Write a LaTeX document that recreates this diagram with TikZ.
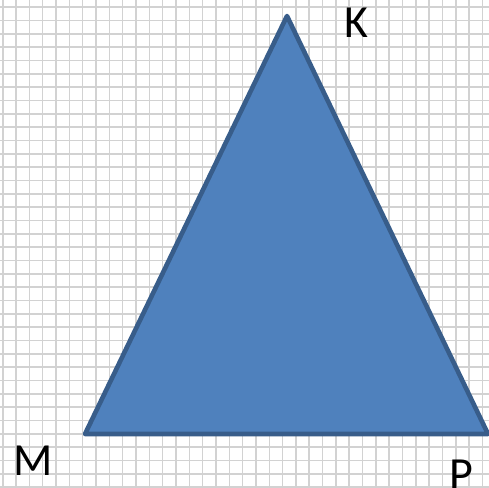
\documentclass[tikz,border=0pt]{standalone}
\usepackage{fontspec}
\setmainfont{Carlito}
\usepackage{xcolor}
\usepackage{tikz}
\usetikzlibrary{positioning,calc}

\definecolor{triFill}{HTML}{4F81BD}
\definecolor{triLine}{HTML}{385D8A}

\tikzset{
    gridLine/.style={line width=1.6pt, gray!35},
    vertexLabel/.style={font=\fontsize{46}{50}\selectfont, text=black, inner sep=0pt, anchor=base west}
}

\begin{document}
\begin{tikzpicture}[x=1pt, y=1pt]
    \useasboundingbox (0,0) rectangle (489,487);
    \clip (0,0) rectangle (489,487);
    \fill[white] (0,0) rectangle (489,487);

    % Draw grid lines
    \foreach \i in {0,...,36} {
        \draw[gridLine] ({2.7+13.33*\i}, 0) -- ({2.7+13.33*\i}, 487);
        \draw[gridLine] (0, {479.7-13.33*\i}) -- (489, {479.7-13.33*\i});
    }

    % Vertices
    \coordinate (K) at (287, 471);
    \coordinate (M) at (85, 53);
    \coordinate (P) at (488, 53);

    % Triangle
    \draw[triLine, fill=triFill, line width=4.6pt, line join=round] (M) -- (K) -- (P) -- cycle;

    % Labels
    \node[vertexLabel] (labK) at (344, 449) {K};
    \node[vertexLabel] (labM) at (13, 12) {M};
    \node[vertexLabel] (labP) at (449, -2) {P};
\end{tikzpicture}
\end{document}
